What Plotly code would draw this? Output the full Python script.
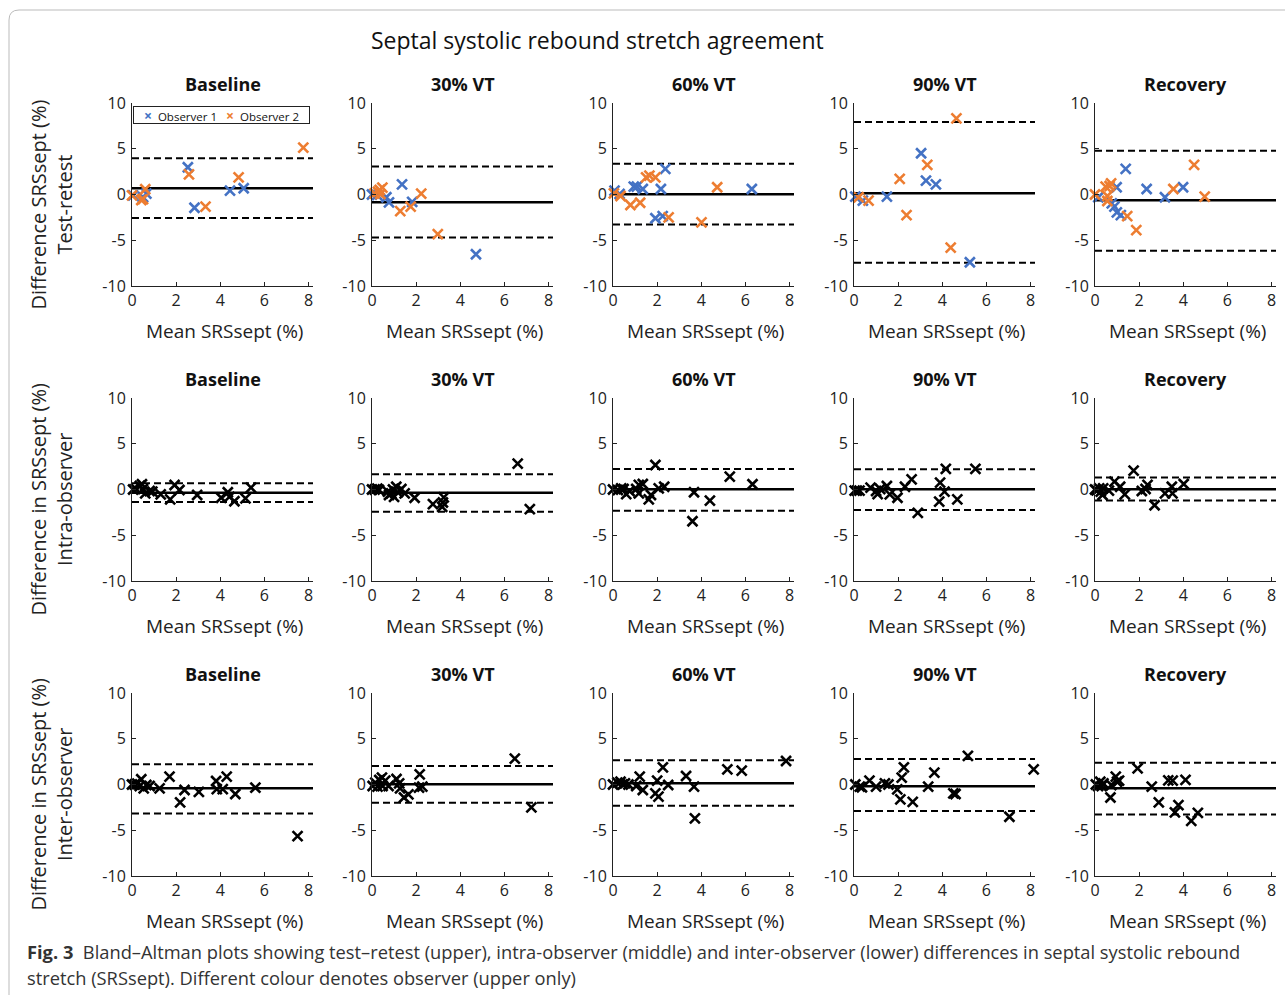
import plotly.graph_objects as go

W, H = 1285, 995

conditions = ["Baseline", "30% VT", "60% VT", "90% VT", "Recovery"]
row_labels = ["Difference SRSsept (%)<br>Test-retest",
              "Difference in SRSsept (%)<br>Intra-observer",
              "Difference in SRSsept (%)<br>Inter-observer"]
x_title = "Mean SRSsept (%)"
main_title = "Septal systolic rebound stretch agreement"
caption_1 = ("<b>Fig. 3</b>  Bland–Altman plots showing test–retest (upper), intra-observer (middle) "
             "and inter-observer (lower) differences in septal systolic rebound")
caption_2 = "stretch (SRSsept). Different colour denotes observer (upper only)"
observer_names = ["Observer 1", "Observer 2"]

x_ticks = [0, 2, 4, 6, 8]
y_ticks = [-10, -5, 0, 5, 10]
y_tick_text = ["-10", "-5", "0", "5", "10"]

# ---------------- Test-retest (upper row) ----------------
tr_o1_x = [[0.05, 0.5, 0.65, 2.53, 2.83, 4.44, 5.06],
           [0.0, 0.23, 0.65, 0.77, 1.36, 1.82, 4.71],
           [0.07, 0.3, 0.94, 1.08, 1.35, 1.92, 2.17, 2.25, 2.37, 6.29],
           [0.06, 0.4, 1.49, 3.04, 3.26, 3.71, 5.25],
           [0.15, 0.76, 0.88, 0.98, 0.99, 1.17, 1.39, 2.34, 3.17, 3.99]]
tr_o1_y = [[-0.1, -0.3, 0.1, 2.98, -1.45, 0.42, 0.68],
           [0.0, -0.05, -0.3, -0.86, 1.11, -0.8, -6.53],
           [0.42, 0.05, 0.86, 0.86, 0.6, -2.6, 0.6, -2.36, 2.8, 0.6],
           [-0.24, -0.67, -0.24, 4.51, 1.51, 1.11, -7.4],
           [-0.3, -0.97, -1.33, 0.79, -1.96, -2.25, 2.8, 0.6, -0.3, 0.79]]
tr_o2_x = [[0.0, 0.42, 0.5, 0.6, 2.58, 3.33, 4.83, 7.76],
           [0.12, 0.27, 0.35, 0.47, 0.38, 1.28, 1.75, 2.23, 2.98],
           [0.04, 0.34, 0.79, 1.23, 1.5, 1.65, 1.92, 2.52, 4.01, 4.72],
           [0.21, 0.66, 2.07, 2.38, 3.32, 4.38, 4.64],
           [0.0, 0.48, 0.56, 0.56, 0.66, 0.73, 1.46, 1.87, 3.55, 4.49, 4.97]]
tr_o2_y = [[-0.1, -0.6, -0.5, 0.57, 2.2, -1.33, 1.88, 5.13],
           [0.13, 0.3, 0.5, 0.75, 0.05, -1.81, -1.33, 0.09, -4.33],
           [0.13, -0.16, -1.15, -0.9, 1.88, 2.07, 1.88, -2.5, -3.05, 0.79],
           [-0.3, -0.67, 1.7, -2.25, 3.23, -5.8, 8.32],
           [0.0, 0.86, -0.16, -0.71, 0.93, 1.22, -2.36, -3.9, 0.6, 3.23, -0.24]]
tr_mean = [0.68, -0.86, 0.02, 0.13, -0.64]
tr_upper = [3.97, 3.05, 3.35, 7.92, 4.77]
tr_lower = [-2.58, -4.7, -3.27, -7.47, -6.16]

# ---------------- Intra-observer (middle row) ----------------
intra_x = [[0.05, 0.17, 0.35, 0.45, 0.5, 0.6, 0.8, 0.92, 1.3, 1.73, 1.93, 2.15, 2.95, 4.04, 4.34, 4.41, 4.64, 5.14, 5.39],
           [0.0, 0.12, 0.24, 0.32, 0.72, 0.77, 0.87, 0.95, 1.0, 1.1, 1.17, 1.33, 1.48, 1.93, 2.76, 3.18, 3.21, 3.25, 6.6, 7.15],
           [0.0, 0.22, 0.37, 0.48, 0.6, 0.75, 1.05, 1.17, 1.17, 1.35, 1.62, 1.72, 1.92, 2.07, 2.32, 3.6, 3.67, 4.39, 5.29, 6.32],
           [0.03, 0.13, 0.25, 0.75, 1.0, 1.07, 1.19, 1.49, 1.62, 1.97, 2.31, 2.61, 2.89, 3.86, 3.9, 4.1, 4.16, 4.68, 5.5],
           [0.0, 0.07, 0.19, 0.26, 0.34, 0.37, 0.63, 0.88, 1.14, 1.35, 1.75, 2.12, 2.29, 2.38, 2.7, 3.17, 3.48, 3.51, 4.02]]
intra_y = [[0.0, 0.1, 0.38, 0.57, 0.05, -0.42, -0.16, -0.24, -0.53, -1.08, 0.49, -0.05, -0.6, -0.9, -0.3, -0.8, -1.28, -0.97, 0.2],
           [0.0, 0.0, 0.1, -0.05, -0.24, -0.6, -0.42, 0.0, -0.8, 0.3, -0.3, 0.05, -0.42, -0.9, -1.6, -1.9, -1.42, -0.86, 2.83, -2.15],
           [0.0, -0.05, 0.13, 0.05, -0.5, -0.16, 0.05, 0.5, -0.42, 0.6, -1.08, -0.6, 2.68, 0.13, 0.3, -3.47, -0.3, -1.22, 1.4, 0.57],
           [-0.13, -0.13, -0.13, 0.2, -0.16, -0.5, 0.05, 0.38, -0.53, -0.9, 0.3, 1.11, -2.55, -1.33, 0.75, -0.24, 2.25, -1.08, 2.25],
           [0.0, -0.1, 0.13, -0.24, -0.6, 0.13, -0.13, 0.86, 0.3, -0.53, 2.07, -0.16, 0.05, 0.5, -1.72, -0.42, 0.3, -0.42, 0.6]]
intra_mean = [-0.35, -0.35, 0.02, 0.02, 0.02]
intra_upper = [0.68, 1.66, 2.25, 2.2, 1.3]
intra_lower = [-1.37, -2.43, -2.32, -2.25, -1.19]

# ---------------- Inter-observer (lower row) ----------------
inter_x = [[0.0, 0.12, 0.24, 0.35, 0.42, 0.53, 0.65, 0.8, 1.25, 1.7, 2.18, 2.38, 3.03, 3.81, 3.84, 4.11, 4.29, 4.68, 5.59, 7.5],
           [0.03, 0.15, 0.25, 0.33, 0.45, 0.48, 0.6, 0.75, 1.11, 1.23, 1.27, 1.45, 1.65, 2.16, 2.13, 2.28, 6.47, 7.22],
           [0.0, 0.2, 0.34, 0.44, 0.54, 0.7, 1.05, 1.21, 1.35, 1.92, 2.0, 2.06, 2.26, 2.5, 3.31, 3.67, 3.71, 5.18, 5.83, 7.84],
           [0.06, 0.26, 0.36, 0.7, 1.0, 1.4, 1.56, 1.96, 2.1, 2.16, 2.26, 2.66, 3.36, 3.64, 4.5, 4.6, 5.16, 7.04, 8.14],
           [0.04, 0.14, 0.24, 0.3, 0.38, 0.7, 0.74, 0.94, 1.0, 1.09, 1.93, 2.57, 2.89, 3.32, 3.52, 3.62, 3.78, 4.1, 4.36, 4.66]]
inter_y = [[0.0, 0.0, 0.1, -0.16, 0.57, -0.42, -0.05, -0.16, -0.42, 0.86, -1.96, -0.6, -0.8, 0.38, -0.5, -0.5, 0.86, -1.04, -0.35, -5.65],
           [-0.16, 0.2, -0.24, 0.49, 0.75, -0.16, 0.42, -0.16, 0.6, 0.13, -0.42, -1.42, -1.08, 1.11, -0.35, -0.24, 2.83, -2.5],
           [0.0, 0.2, 0.3, 0.0, 0.13, 0.0, -0.16, 0.86, -0.6, -0.97, 0.42, -1.33, 1.88, -0.05, 0.93, -0.24, -3.7, 1.66, 1.51, 2.57],
           [0.0, -0.24, -0.3, 0.42, -0.24, 0.13, 0.0, -0.53, -1.63, 0.75, 1.88, -1.9, -0.24, 1.3, -0.97, -1.04, 3.13, -3.52, 1.66],
           [0.0, -0.16, 0.3, -0.16, 0.13, -1.42, -0.05, 0.86, 0.3, 0.42, 1.77, -0.24, -1.96, 0.45, 0.42, -3.05, -2.25, 0.5, -3.97, -3.1]]
inter_mean = [-0.42, 0.02, 0.13, -0.2, -0.42]
inter_upper = [2.2, 2.03, 2.65, 2.8, 2.39]
inter_lower = [-3.16, -1.99, -2.32, -2.9, -3.27]

# ---------------- styling / layout (pixels) ----------------
BLUE = "#4472C4"
ORANGE = "#ED7D31"
FONT = "Open Sans"
axis_left_px = [132, 372, 613, 854, 1095]
axis_w_px = 181
row_top_px = [103, 398, 693]
axis_h_px = 183
X_RANGE = [0, 8.2]
Y_RANGE = [-10, 10]


def px(x):
    return x / W


def py(y):
    return 1 - y / H


fig = go.Figure()
annotations = []
shapes = []

rows = [
    dict(series=[(tr_o1_x, tr_o1_y, BLUE, observer_names[0]), (tr_o2_x, tr_o2_y, ORANGE, observer_names[1])],
         mean=tr_mean, upper=tr_upper, lower=tr_lower),
    dict(series=[(intra_x, intra_y, "black", "Intra-observer")], mean=intra_mean, upper=intra_upper,
         lower=intra_lower),
    dict(series=[(inter_x, inter_y, "black", "Inter-observer")], mean=inter_mean, upper=inter_upper,
         lower=inter_lower),
]

for r, row in enumerate(rows):
    for c in range(5):
        idx = r * 5 + c + 1
        xa = "x" if idx == 1 else f"x{idx}"
        ya = "y" if idx == 1 else f"y{idx}"
        xd = [px(axis_left_px[c]), px(axis_left_px[c] + axis_w_px)]
        yd = [py(row_top_px[r] + axis_h_px), py(row_top_px[r])]
        common = dict(showgrid=False, zeroline=False, showline=True, linecolor="#222", linewidth=1,
                      ticks="inside", ticklen=4, tickcolor="#222", tickwidth=1, automargin=False,
                      tickfont=dict(family=FONT, size=16, color="#222"), fixedrange=True)
        fig.update_layout(**{
            ("xaxis" if idx == 1 else f"xaxis{idx}"): dict(domain=xd, range=X_RANGE, tickvals=x_ticks,
                                                           anchor=ya, **common),
            ("yaxis" if idx == 1 else f"yaxis{idx}"): dict(domain=yd, range=Y_RANGE, tickvals=y_ticks,
                                                           ticktext=y_tick_text,
                                                           anchor=xa, ticklabelstandoff=2, **common),
        })
        # limits of agreement
        for val, dash, wdt in [(row["upper"][c], "7px,4px", 2), (row["lower"][c], "7px,4px", 2),
                               (row["mean"][c], "solid", 2.5)]:
            shapes.append(dict(type="line", xref=f"{xa} domain", yref=ya, x0=0, x1=1, y0=val, y1=val,
                               line=dict(color="black", width=wdt, dash=dash), layer="below"))
        for sx, sy, col, name in row["series"]:
            fig.add_trace(go.Scatter(
                x=sx[c], y=sy[c], mode="markers", xaxis=xa, yaxis=ya,
                name=name, showlegend=False,
                marker=dict(symbol="x-thin", size=10, color=col, line=dict(color=col, width=2.6)),
                cliponaxis=False))
        # subplot title
        annotations.append(dict(text=f"<b>{conditions[c]}</b>", x=px(axis_left_px[c] + axis_w_px / 2),
                                y=py(row_top_px[r] - 19), xref="paper", yref="paper", showarrow=False,
                                font=dict(family=FONT, size=18, color="#111"), xanchor="center", yanchor="middle"))
        # x axis title
        annotations.append(dict(text=x_title, x=px(axis_left_px[c] + axis_w_px / 2 + 2),
                                y=py(row_top_px[r] + axis_h_px + 45), xref="paper", yref="paper",
                                showarrow=False, font=dict(family=FONT, size=19, color="#222"),
                                xanchor="center", yanchor="middle"))
    # row label
    annotations.append(dict(text=row_labels[r], x=px(51), y=py(row_top_px[r] + axis_h_px / 2 + 10),
                            xref="paper", yref="paper", showarrow=False, textangle=-90,
                            font=dict(family=FONT, size=20, color="#222"), xanchor="center", yanchor="middle"))

# legend box (upper-left panel)
legend_text = (f"<span style='color:{BLUE};font-size:14px'><b>×</b></span>  {observer_names[0]}   "
               f"<span style='color:{ORANGE};font-size:14px'><b>×</b></span>  {observer_names[1]}")
annotations.append(dict(text=legend_text, x=px(133), y=py(106), xref="paper", yref="paper", showarrow=False,
                        xanchor="left", yanchor="top", align="center", width=173, height=14,
                        font=dict(family=FONT, size=11.5, color="#111"), bgcolor="white",
                        bordercolor="#222", borderwidth=1, borderpad=1))

annotations.append(dict(text=main_title, x=px(597), y=py(40), xref="paper", yref="paper", showarrow=False,
                        font=dict(family=FONT, size=23, color="#111"), xanchor="center", yanchor="middle"))
annotations.append(dict(text=caption_1, x=px(25), y=py(951), xref="paper", yref="paper", showarrow=False,
                        font=dict(family=FONT, size=18.3, color="#333"), xanchor="left", yanchor="middle"))
annotations.append(dict(text=caption_2, x=px(25), y=py(977), xref="paper", yref="paper", showarrow=False,
                        font=dict(family=FONT, size=18.3, color="#333"), xanchor="left", yanchor="middle"))

# rounded frame (encloses the figure and its caption; continues past the picture's bottom/right edges)
x0, y0, x1, y1, rr = 9, 10, 1300, 1010, 10
path = (f"M {px(x0)},{py(y1)} L {px(x0)},{py(y0 + rr)} Q {px(x0)},{py(y0)} {px(x0 + rr)},{py(y0)} "
        f"L {px(x1)},{py(y0)}")
shapes.append(dict(type="path", xref="paper", yref="paper", path=path, line=dict(color="#bbbbbb", width=1)))

fig.update_layout(
    width=W, height=H, margin=dict(l=0, r=0, t=0, b=0, pad=0, autoexpand=False),
    paper_bgcolor="white", plot_bgcolor="white", showlegend=False,
    annotations=annotations, shapes=shapes,
)

fig.write_html("out.html", config={"displayModeBar": False},
               post_script="document.body.style.margin='0';")
